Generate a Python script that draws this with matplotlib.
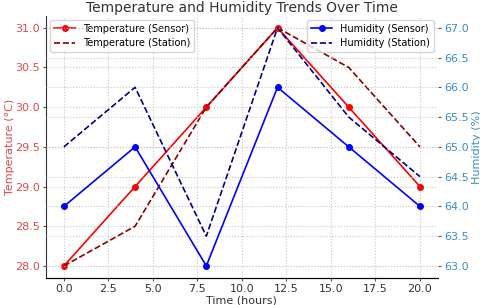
import matplotlib.pyplot as plt

hours = [0, 4, 8, 12, 16, 20]
temp_sensor = [28.0, 29.0, 30.0, 31.0, 30.0, 29.0]
temp_station = [28.0, 28.5, 30.0, 31.0, 30.5, 29.5]
hum_sensor = [64.0, 65.0, 63.0, 66.0, 65.0, 64.0]
hum_station = [65.0, 66.0, 63.5, 67.0, 65.5, 64.5]

red_txt = '#e4474a'
blue_txt = '#3a8dcd'

fig, ax1 = plt.subplots(figsize=(4.8, 3.05), dpi=100)

ax1.plot(hours, temp_sensor, color='red', marker='o', markersize=4, lw=1.2, label='Temperature (Sensor)')
ax1.plot(hours, temp_station, color='darkred', ls='--', lw=1.2, label='Temperature (Station)')
ax1.set_xlabel('Time (hours)', fontsize=8, color='#333333', labelpad=1)
ax1.set_ylabel('Temperature (°C)', fontsize=8, color=red_txt, labelpad=0)
ax1.tick_params(axis='y', labelcolor=red_txt, labelsize=8, color='#555555', length=2.5, pad=2)
ax1.tick_params(axis='x', labelsize=8, labelcolor='#333333', color='#555555', length=2.5, pad=2)
ax1.grid(True, ls=':', color='#c8c8c8', lw=0.8)
ax1.legend(loc='upper left', fontsize=7, handlelength=2.2, borderaxespad=0.4)

ax2 = ax1.twinx()
ax2.plot(hours, hum_sensor, color='blue', marker='o', markersize=4, lw=1.2, label='Humidity (Sensor)')
ax2.plot(hours, hum_station, color='darkblue', ls='--', lw=1.2, label='Humidity (Station)')
ax2.set_ylabel('Humidity (%)', fontsize=8, color=blue_txt, labelpad=2)
ax2.tick_params(axis='y', labelcolor=blue_txt, labelsize=8, color='#555555', length=2.5, pad=2)
ax2.grid(True, ls=':', color='#c8c8c8', lw=0.8)
ax2.legend(loc='upper right', fontsize=7, handlelength=2.2, borderaxespad=0.4)

for ax in (ax1, ax2):
    ax.spines['top'].set_visible(False)
    ax.spines['right'].set_visible(False)
ax2.spines['left'].set_visible(False)
ax1.spines['left'].set_color('#333333')
ax1.spines['bottom'].set_color('#333333')

ax1.set_title('Temperature and Humidity Trends Over Time', fontsize=10, color='#333333', pad=3)
fig.subplots_adjust(left=0.096, right=0.912, top=0.948, bottom=0.089)
fig.savefig('out.png', dpi=100)
